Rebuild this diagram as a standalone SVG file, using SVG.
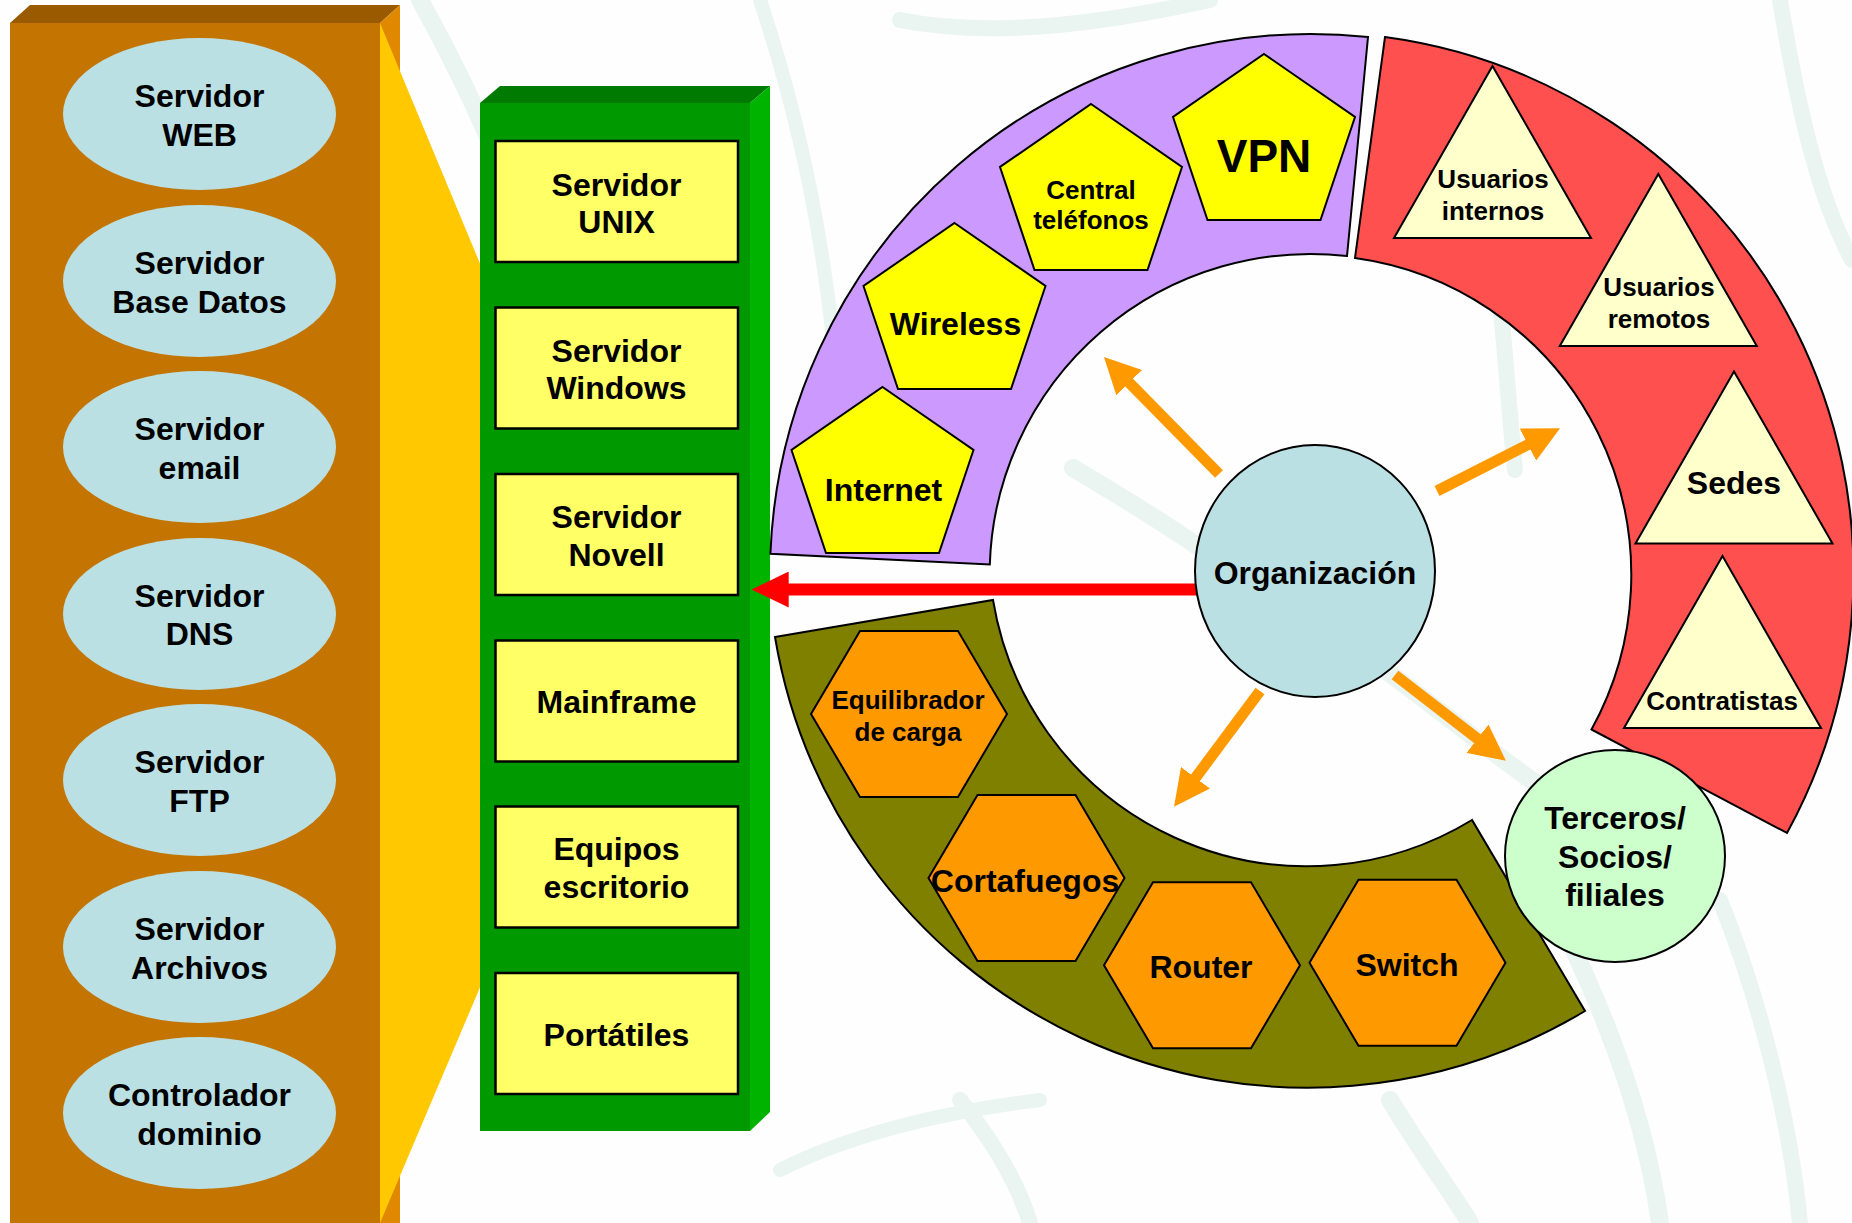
<svg xmlns="http://www.w3.org/2000/svg" xmlns:xlink="http://www.w3.org/1999/xlink" width="1852" height="1223" viewBox="0 0 1852 1223">
  <style>
    .lbl { font-family: "Liberation Sans", Arial, sans-serif; font-weight: bold; text-anchor: middle; fill: #000; }
    .f32 { font-size: 32px; }
    .f26 { font-size: 26px; }
    .f46 { font-size: 46px; }
    .srv { fill: #BBE0E3; }
    .box { fill: #FFFF66; stroke: #000; stroke-width: 2.5; }
    .pent { fill: #FFFF00; stroke: #000; stroke-width: 2; }
    .tri { fill: #FFFFCC; stroke: #000; stroke-width: 2; }
    .hex { fill: #FF9900; stroke: #000; stroke-width: 2; }
    .band { stroke: #000; stroke-width: 2; }
    .wm { fill: none; stroke: #EAF5F1; stroke-linecap: round; }
    .arrowO { stroke: #FF9900; stroke-width: 11; fill: none; marker-end: url(#headOrange); }
  </style>
  <defs>
    <marker id="headOrange" markerUnits="userSpaceOnUse" markerWidth="36" markerHeight="36" viewBox="0 0 36 36" refX="6" refY="18" orient="auto">
      <path d="M0,0 L36,18 L0,36 Z" fill="#FF9900"/>
    </marker>
    <marker id="headRed" markerUnits="userSpaceOnUse" markerWidth="37" markerHeight="36" viewBox="0 0 37 36" refX="7" refY="18" orient="auto">
      <path d="M0,0 L37,18 L0,36 Z" fill="#FF0000"/>
    </marker>
    <!-- shape templates, anchored at the top vertex (pentagon, triangle) or centre (hexagon) -->
    <polygon id="pentShape" points="0,0 91,63 56.5,166 -56.5,166 -91,63"/>
    <polygon id="triShape" points="0,0 98.5,172 -98.5,172"/>
    <polygon id="hexShape" points="-98,0 -49,-83 49,-83 98,0 49,83 -49,83"/>
  </defs>

  <!-- page background with faint watermark strokes -->
  <rect width="1852" height="1223" fill="#FDFEFD"/>
  <g id="watermark">
    <path class="wm" stroke-width="18" d="M420,0 C470,90 520,200 560,330"/>
    <path class="wm" stroke-width="14" d="M760,0 C800,120 830,260 840,420"/>
    <path class="wm" stroke-width="16" d="M900,20 C1000,40 1120,20 1210,0"/>
    <path class="wm" stroke-width="18" d="M1073,468 C1110,490 1160,520 1200,548"/>
    <path class="wm" stroke-width="18" d="M1385,670 C1440,710 1500,760 1560,800"/>
    <path class="wm" stroke-width="16" d="M1500,300 C1505,350 1510,420 1515,470"/>
    <path class="wm" stroke-width="18" d="M1530,860 C1580,960 1640,1080 1660,1223"/>
    <path class="wm" stroke-width="16" d="M1720,900 C1760,1000 1790,1120 1800,1223"/>
    <path class="wm" stroke-width="18" d="M1390,1100 C1420,1150 1450,1190 1470,1223"/>
    <path class="wm" stroke-width="16" d="M960,1100 C1000,1150 1020,1190 1030,1223"/>
    <path class="wm" stroke-width="14" d="M780,1170 C860,1130 960,1110 1040,1100"/>
    <path class="wm" stroke-width="16" d="M1780,0 C1800,120 1820,200 1852,260"/>
  </g>

  <!-- left block: server types -->
  <g id="serverBlock">
    <polygon points="10,23 30,5 400,5 380,23" fill="#9A5A00"/>
    <polygon points="380,23 400,5 400,1223 380,1223" fill="#E08800"/>
    <rect x="10" y="23" width="370" height="1200" fill="#C47400"/>
    <polygon points="380,23 481,266 481,985 380,1223" fill="#FFC800"/>
  </g>

  <g id="srvWeb">
    <ellipse class="srv" cx="199.5" cy="114" rx="136.5" ry="76"/>
    <text class="lbl f32" x="199.5" y="107">Servidor</text>
    <text class="lbl f32" x="199.5" y="146">WEB</text>
  </g>
  <g id="srvDb">
    <ellipse class="srv" cx="199.5" cy="281" rx="136.5" ry="76"/>
    <text class="lbl f32" x="199.5" y="274">Servidor</text>
    <text class="lbl f32" x="199.5" y="313">Base Datos</text>
  </g>
  <g id="srvMail">
    <ellipse class="srv" cx="199.5" cy="447" rx="136.5" ry="76"/>
    <text class="lbl f32" x="199.5" y="440">Servidor</text>
    <text class="lbl f32" x="199.5" y="479">email</text>
  </g>
  <g id="srvDns">
    <ellipse class="srv" cx="199.5" cy="614" rx="136.5" ry="76"/>
    <text class="lbl f32" x="199.5" y="607">Servidor</text>
    <text class="lbl f32" x="199.5" y="645">DNS</text>
  </g>
  <g id="srvFtp">
    <ellipse class="srv" cx="199.5" cy="780" rx="136.5" ry="76"/>
    <text class="lbl f32" x="199.5" y="773">Servidor</text>
    <text class="lbl f32" x="199.5" y="812">FTP</text>
  </g>
  <g id="srvFiles">
    <ellipse class="srv" cx="199.5" cy="947" rx="136.5" ry="76"/>
    <text class="lbl f32" x="199.5" y="940">Servidor</text>
    <text class="lbl f32" x="199.5" y="979">Archivos</text>
  </g>
  <g id="srvDomain">
    <ellipse class="srv" cx="199.5" cy="1113" rx="136.5" ry="76"/>
    <text class="lbl f32" x="199.5" y="1106">Controlador</text>
    <text class="lbl f32" x="199.5" y="1145">dominio</text>
  </g>

  <!-- middle block: platforms -->
  <g id="platformBlock">
    <polygon points="480,103 500,86 770,86 750,103" fill="#007A00"/>
    <polygon points="750,103 770,86 770,1112 750,1131" fill="#00B300"/>
    <rect x="480" y="103" width="270" height="1028" fill="#009900"/>
  </g>
  <g id="boxUnix">
    <rect class="box" x="495.5" y="141" width="242.5" height="121"/>
    <text class="lbl f32" x="616.5" y="196">Servidor</text>
    <text class="lbl f32" x="616.5" y="233">UNIX</text>
  </g>
  <g id="boxWindows">
    <rect class="box" x="495.5" y="307.5" width="242.5" height="121"/>
    <text class="lbl f32" x="616.5" y="362">Servidor</text>
    <text class="lbl f32" x="616.5" y="399">Windows</text>
  </g>
  <g id="boxNovell">
    <rect class="box" x="495.5" y="474" width="242.5" height="121"/>
    <text class="lbl f32" x="616.5" y="528">Servidor</text>
    <text class="lbl f32" x="616.5" y="566">Novell</text>
  </g>
  <g id="boxMainframe">
    <rect class="box" x="495.5" y="640.5" width="242.5" height="121"/>
    <text class="lbl f32" x="616.5" y="713">Mainframe</text>
  </g>
  <g id="boxDesktop">
    <rect class="box" x="495.5" y="806.5" width="242.5" height="121"/>
    <text class="lbl f32" x="616.5" y="860">Equipos</text>
    <text class="lbl f32" x="616.5" y="898">escritorio</text>
  </g>
  <g id="boxLaptop">
    <rect class="box" x="495.5" y="973" width="242.5" height="121"/>
    <text class="lbl f32" x="616.5" y="1046">Portátiles</text>
  </g>

  <!-- ring bands around the organisation -->
  <g id="bandAccess">
    <path class="band" fill="#CC99FF" d="M770.4,553.8 A541 541 0 0 1 1368,37 L1347,256 A321 321 0 0 0 989.8,564.5 Z"/>
  </g>
  <g id="bandUsers">
    <path class="band" fill="#FF5050" d="M1385,37 A541 541 0 0 1 1787,833 L1591.5,729.5 A320 320 0 0 0 1355,258 Z"/>
  </g>
  <g id="bandNetwork">
    <path class="band" fill="#808000" d="M775,637 L993,600 A318 318 0 0 0 1472,820 L1585,1011 A540 540 0 0 1 775,637 Z"/>
  </g>

  <!-- access channels -->
  <g id="nVpn">
    <use href="#pentShape" class="pent" x="1264" y="54"/>
    <text class="lbl f46" x="1264" y="172">VPN</text>
  </g>
  <g id="nCentral">
    <use href="#pentShape" class="pent" x="1091" y="104"/>
    <text class="lbl f26" x="1091" y="198.5">Central</text>
    <text class="lbl f26" x="1091" y="229">teléfonos</text>
  </g>
  <g id="nWireless">
    <use href="#pentShape" class="pent" x="954.5" y="223"/>
    <text class="lbl f32" x="955.5" y="335">Wireless</text>
  </g>
  <g id="nInternet">
    <use href="#pentShape" class="pent" x="882.5" y="387"/>
    <text class="lbl f32" x="883.5" y="500.5">Internet</text>
  </g>

  <!-- user groups -->
  <g id="nInternos">
    <use href="#triShape" class="tri" x="1492.5" y="66"/>
    <text class="lbl f26" x="1493" y="187.5">Usuarios</text>
    <text class="lbl f26" x="1493" y="219.5">internos</text>
  </g>
  <g id="nRemotos">
    <use href="#triShape" class="tri" x="1658.3" y="174"/>
    <text class="lbl f26" x="1659" y="296">Usuarios</text>
    <text class="lbl f26" x="1659" y="328">remotos</text>
  </g>
  <g id="nSedes">
    <use href="#triShape" class="tri" x="1734" y="371.5"/>
    <text class="lbl f32" x="1734" y="494">Sedes</text>
  </g>
  <g id="nContratistas">
    <use href="#triShape" class="tri" x="1722.5" y="556"/>
    <text class="lbl f26" x="1722" y="709.5">Contratistas</text>
  </g>

  <!-- network devices -->
  <g id="nBalancer">
    <use href="#hexShape" class="hex" x="909" y="714"/>
    <text class="lbl f26" x="908" y="708.5">Equilibrador</text>
    <text class="lbl f26" x="908" y="740.5">de carga</text>
  </g>
  <g id="nFirewall">
    <use href="#hexShape" class="hex" x="1026.5" y="878"/>
    <text class="lbl f32" x="1025" y="891.5">Cortafuegos</text>
  </g>
  <g id="nRouter">
    <use href="#hexShape" class="hex" x="1202" y="965.3"/>
    <text class="lbl f32" x="1201" y="977.5">Router</text>
  </g>
  <g id="nSwitch">
    <use href="#hexShape" class="hex" x="1407.5" y="962.7"/>
    <text class="lbl f32" x="1407" y="975.5">Switch</text>
  </g>

  <!-- partners -->
  <g id="nTerceros">
    <ellipse cx="1615" cy="856" rx="110" ry="106" fill="#CCFFCC" stroke="#000" stroke-width="2"/>
    <text class="lbl f32" x="1615" y="828.5">Terceros/</text>
    <text class="lbl f32" x="1615" y="867.5">Socios/</text>
    <text class="lbl f32" x="1615" y="905.5">filiales</text>
  </g>

  <!-- connectors -->
  <g id="connectors">
    <line x1="1198" y1="589.5" x2="781.7" y2="589.5" stroke="#FF0000" stroke-width="12" marker-end="url(#headRed)"/>
    <line class="arrowO" x1="1219" y1="474" x2="1125" y2="378.4"/>
    <line class="arrowO" x1="1437" y1="491" x2="1533.3" y2="441.9"/>
    <line class="arrowO" x1="1260" y1="691" x2="1191.9" y2="782.6"/>
    <line class="arrowO" x1="1395" y1="675" x2="1482.2" y2="742.4"/>
  </g>

  <!-- organisation hub -->
  <g id="nOrganizacion">
    <ellipse cx="1315" cy="571" rx="120" ry="126" fill="#BBE0E3" stroke="#000" stroke-width="2"/>
    <text class="lbl f32" x="1315" y="583.5">Organización</text>
  </g>
</svg>
